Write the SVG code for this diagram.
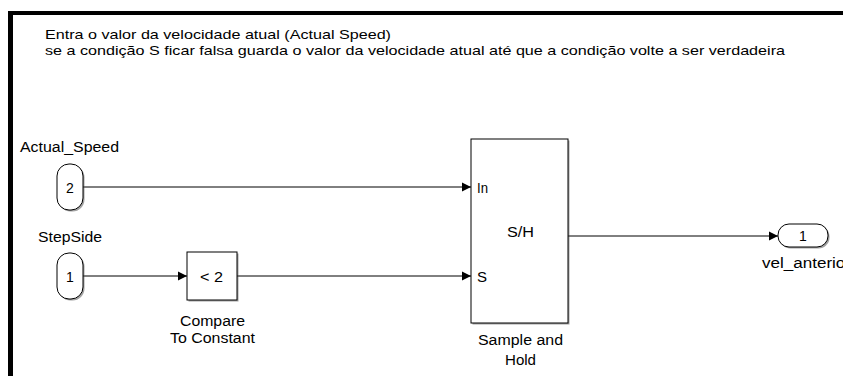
<svg xmlns="http://www.w3.org/2000/svg" width="843" height="376" viewBox="0 0 843 376">
<style>
text{font-family:"Liberation Sans",Arial,sans-serif;fill:#000}
.note{font-size:13px}
.lbl{font-size:14px}
.blk{fill:#fff;stroke:#000;stroke-width:1}
.shadow{fill:#555;opacity:0.55}
.wire{fill:none;stroke:#000;stroke-width:1}
</style>
<defs>
<marker id="arr" markerWidth="10" markerHeight="10" refX="9" refY="5" orient="auto" markerUnits="userSpaceOnUse">
<path d="M0,0.5 L9,5 L0,9.5 Z" fill="#000"/>
</marker>
</defs>
<rect x="0" y="0" width="843" height="376" fill="#fff"/>
<rect x="8" y="11" width="835" height="4" fill="#000"/>
<rect x="8" y="11" width="5" height="365" fill="#000"/>
<g id="annotation">
<text class="note" x="45" y="39" textLength="346" lengthAdjust="spacingAndGlyphs">Entra o valor da velocidade atual (Actual Speed)</text>
<text class="note" x="45" y="55" textLength="740" lengthAdjust="spacingAndGlyphs">se a condição S ficar falsa guarda o valor da velocidade atual até que a condição volte a ser verdadeira</text>
</g>
<g id="connectors">
<path class="wire" d="M83,187 H471" marker-end="url(#arr)"/>
<path class="wire" d="M83,276 H187" marker-end="url(#arr)"/>
<path class="wire" d="M237,276 H471" marker-end="url(#arr)"/>
<path class="wire" d="M568,236 H778" marker-end="url(#arr)"/>
</g>
<g id="in_actual_speed">
<rect class="shadow" x="58.5" y="165.5" width="26" height="46" rx="12"/>
<rect class="blk" x="57" y="164" width="26" height="46" rx="12"/>
<text class="lbl" x="70" y="193" text-anchor="middle">2</text>
<text class="lbl" x="20" y="152" textLength="99" lengthAdjust="spacingAndGlyphs">Actual_Speed</text>
</g>
<g id="in_stepside">
<rect class="shadow" x="58.5" y="254.5" width="26" height="46" rx="12"/>
<rect class="blk" x="57" y="253" width="26" height="46" rx="12"/>
<text class="lbl" x="70" y="282" text-anchor="middle">1</text>
<text class="lbl" x="38" y="242" textLength="64" lengthAdjust="spacingAndGlyphs">StepSide</text>
</g>
<g id="compare">
<rect class="shadow" x="188.5" y="253.5" width="50" height="48"/>
<rect class="blk" x="187" y="252" width="50" height="48"/>
<text class="lbl" x="200" y="282" textLength="23" lengthAdjust="spacingAndGlyphs">&lt; 2</text>
<text class="lbl" x="180" y="326" textLength="65" lengthAdjust="spacingAndGlyphs">Compare</text>
<text class="lbl" x="170" y="343" textLength="85" lengthAdjust="spacingAndGlyphs">To Constant</text>
</g>
<g id="sample_hold">
<rect class="shadow" x="472.5" y="140.5" width="97" height="184"/>
<rect class="blk" x="471" y="139" width="97" height="184"/>
<text class="lbl" x="477" y="193" textLength="11" lengthAdjust="spacingAndGlyphs">In</text>
<text class="lbl" x="477" y="282" textLength="10" lengthAdjust="spacingAndGlyphs">S</text>
<text class="lbl" x="507" y="237" textLength="27" lengthAdjust="spacingAndGlyphs">S/H</text>
<text class="lbl" x="478" y="345" textLength="85" lengthAdjust="spacingAndGlyphs">Sample and</text>
<text class="lbl" x="505" y="365" textLength="31" lengthAdjust="spacingAndGlyphs">Hold</text>
</g>
<g id="out_vel_anterior">
<rect class="shadow" x="779.5" y="225.5" width="50" height="23" rx="11"/>
<rect class="blk" x="778" y="224" width="50" height="23" rx="11"/>
<text class="lbl" x="803" y="241" text-anchor="middle">1</text>
<text class="lbl" x="762" y="268" textLength="89" lengthAdjust="spacingAndGlyphs">vel_anterior</text>
</g>
</svg>
